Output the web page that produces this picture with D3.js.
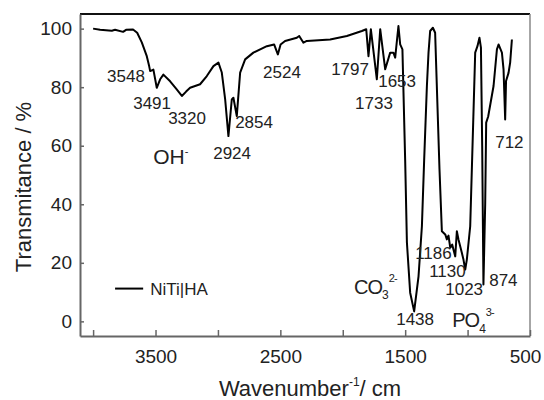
<!DOCTYPE html>
<html lang="en">
<head>
<meta charset="UTF-8">
<title>FTIR NiTi|HA</title>
<script src="https://d3js.org/d3.v7.min.js"></script>
<style>
    body { margin: 0; padding: 0; background: #fff; }
    svg { display: block; font-family: 'Liberation Sans', Arial, sans-serif; }
    .peak { font-size: 17px; fill: #222; }
    .tick text { font-size: 19px; fill: #222; }
</style>
</head>
<body>
<svg width="544" height="400"></svg>
<script>
// spectrum: wavenumber (cm-1) and transmittance (%)
const wavenumber = [4000, 3944, 3850, 3824, 3760, 3736, 3680, 3647, 3610, 3570,
    3551, 3543, 3517, 3490, 3463, 3437, 3383, 3335, 3289, 3255,
    3223, 3143, 3089, 3036, 2996, 2969, 2942, 2916, 2889, 2876,
    2849, 2822, 2782, 2716, 2608, 2550, 2520, 2498, 2462, 2368,
    2349, 2315, 2288, 2101, 1967, 1847, 1812, 1794, 1775, 1727,
    1700, 1660, 1620, 1594, 1580, 1554, 1540, 1522, 1500, 1486,
    1460, 1428, 1393, 1366, 1348, 1326, 1313, 1300, 1278, 1260,
    1225, 1206, 1179, 1166, 1153, 1139, 1123, 1099, 1086, 1073,
    1046, 1033, 1019, 1006, 979, 939, 921, 905, 893, 883,
    873, 859, 851, 835, 792, 765, 752, 725, 712, 699,
    692, 672, 659, 645];
const transmittance = [100, 99.6, 99.3, 99.6, 98.9, 99.6, 99.7, 98.6, 95.3, 90.6,
    87.2, 85.5, 86.0, 79.8, 82.7, 84.3, 82.0, 79.5, 77.0, 78.5,
    79.8, 81.0, 83.8, 87.2, 88.4, 85.0, 75.8, 63.3, 75.8, 76.4,
    70.1, 85.0, 89.5, 91.8, 94.0, 94.6, 91.2, 94.6, 95.8, 96.9,
    97.5, 95.2, 95.8, 96.3, 97.5, 99.2, 99.8, 90.6, 99.8, 82.7,
    99.8, 86.1, 91.8, 91.8, 90.1, 100.9, 94.6, 92.9, 55.0, 26.9,
    9.8, 3.4, 15.4, 32.5, 55.0, 80.4, 91.8, 99.2, 100.3, 98.6,
    51.9, 30.8, 29.7, 28.0, 29.3, 25.2, 26.2, 22.2, 30.8, 28.0,
    23.4, 21.1, 17.7, 21.1, 32.5, 91.8, 94.0, 96.9, 93.5, 60.0,
    12.6, 40.0, 67.9, 70.0, 80.4, 92.9, 94.6, 91.8, 86.1, 69.0,
    82.1, 84.9, 88.4, 96.3];

const xTicks = [4000, 3500, 3000, 2500, 2000, 1500, 1000, 500];
const xTickLabels = [3500, 2500, 1500, 500];
const yTicks = [0, 20, 40, 60, 80, 100];

// peak labels: text, placement in data units (left/baseline)
const peakLabels = ["3548", "3491", "3320", "2854", "2924", "2524", "1797", "1653",
    "1733", "712", "1186", "1130", "1023", "874", "1438"];
const peakLabelWn = [3888, 3679, 3399, 2862, 3038, 2638, 2093, 1716,
    1901, 779, 1420, 1308, 1179, 827, 1572];
const peakLabelT = [81.6, 72.7, 67.3, 65.9, 55.6, 83.0, 84.0, 79.9,
    72.4, 59.1, 21.4, 15.0, 9.1, 12.2, -1.1];

const svg = d3.select("svg");
const margin = { top: 14, right: 14, bottom: 64, left: 80 };
const width = 544 - margin.left - margin.right;
const height = 400 - margin.top - margin.bottom;

const x = d3.scaleLinear().domain([4105, 500]).range([0, width]);
const y = d3.scaleLinear().domain([-5, 105]).range([height, 0]);

const g = svg.append("g").attr("transform", `translate(${margin.left},${margin.top})`);

// frame
g.append("line").attr("x1", 0).attr("x2", width).attr("y1", 0).attr("y2", 0)
    .attr("stroke", "#111").attr("stroke-width", 2);
g.append("line").attr("x1", width).attr("x2", width).attr("y1", 0).attr("y2", height)
    .attr("stroke", "#888").attr("stroke-width", 1.5);

// axes, ticks pointing inward
const xAxis = g.append("g")
    .attr("transform", `translate(0,${height})`)
    .call(d3.axisBottom(x).tickValues(xTicks).tickSizeInner(-6).tickSizeOuter(0).tickPadding(14)
        .tickFormat(d => xTickLabels.includes(d) ? d : ""));
xAxis.select(".domain").attr("stroke", "#666").attr("stroke-width", 2);
xAxis.selectAll(".tick line").attr("stroke", "#666").attr("stroke-width", 1.5);
// keep the last label inside the window
xAxis.selectAll(".tick text").filter(d => d === 500).attr("dx", -5);

const yAxis = g.append("g")
    .call(d3.axisLeft(y).tickValues(yTicks).tickSizeInner(-4).tickSizeOuter(0).tickPadding(8));
yAxis.select(".domain").attr("stroke", "#666").attr("stroke-width", 2);
yAxis.selectAll(".tick line").attr("stroke", "#666").attr("stroke-width", 1.5);

// spectrum
const line = d3.line()
    .x((d, i) => x(wavenumber[i]))
    .y(d => y(d));

g.append("path")
    .datum(transmittance)
    .attr("fill", "none")
    .attr("stroke", "#000")
    .attr("stroke-width", 2)
    .attr("stroke-linejoin", "round")
    .attr("d", line);

// peak labels
g.selectAll("text.peak")
    .data(peakLabels)
    .enter()
    .append("text")
    .attr("class", "peak")
    .attr("x", (d, i) => x(peakLabelWn[i]))
    .attr("y", (d, i) => y(peakLabelT[i]))
    .text(d => d);

// ion labels
const oh = g.append("text").attr("x", x(3519)).attr("y", y(53.6))
    .attr("font-size", 21).attr("fill", "#222");
oh.append("tspan").text("OH");
oh.append("tspan").attr("font-size", 11).attr("dy", -9).text("-");

const co = g.append("text").attr("x", x(1909)).attr("y", y(9.4))
    .attr("font-size", 20).attr("fill", "#222").attr("letter-spacing", -1);
co.append("tspan").text("CO");
co.append("tspan").attr("font-size", 12).attr("dy", 5).text("3");
co.append("tspan").attr("font-size", 11).attr("dy", -17).attr("dx", 1).text("2-");

const po = g.append("text").attr("x", x(1123)).attr("y", y(-1.8))
    .attr("font-size", 20).attr("fill", "#222").attr("letter-spacing", -1);
po.append("tspan").text("PO");
po.append("tspan").attr("font-size", 12).attr("dy", 6).text("4");
po.append("tspan").attr("font-size", 11).attr("dy", -17).attr("dx", 1).text("3-");

// legend
g.append("line")
    .attr("x1", x(3824)).attr("x2", x(3599))
    .attr("y1", y(11.2)).attr("y2", y(11.2))
    .attr("stroke", "#000").attr("stroke-width", 2);
g.append("text")
    .attr("x", x(3543)).attr("y", y(11.2) + 6)
    .attr("font-size", 17).attr("fill", "#222")
    .text("NiTi|HA");

// axis titles
const xt = svg.append("text")
    .attr("x", margin.left + width / 2 + 5)
    .attr("y", 396)
    .attr("text-anchor", "middle")
    .attr("font-size", 22).attr("fill", "#222");
xt.append("tspan").text("Wavenumber");
xt.append("tspan").attr("font-size", 12).attr("dy", -10).text("-1");
xt.append("tspan").attr("dy", 10).text("/ cm");

svg.append("text")
    .attr("transform", `translate(31,${margin.top + height / 2 + 12}) rotate(-90)`)
    .attr("text-anchor", "middle")
    .attr("font-size", 22).attr("fill", "#222")
    .text("Transmitance / %");
</script>
</body>
</html>
